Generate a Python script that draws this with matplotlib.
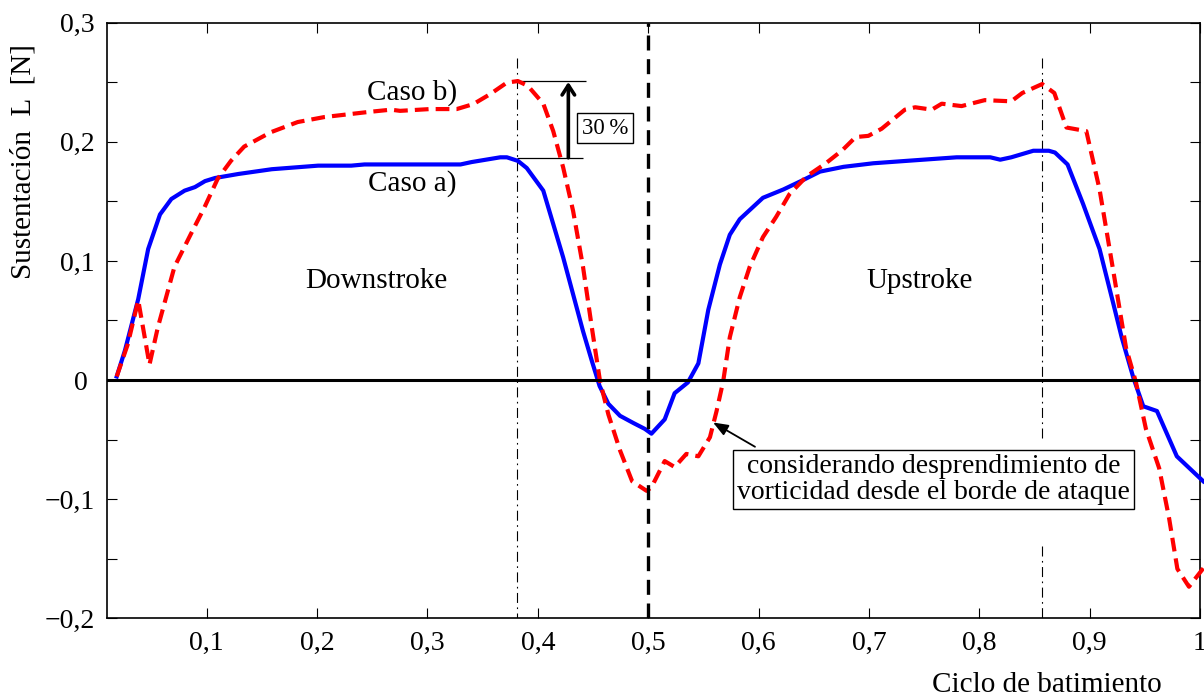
import numpy as np
import matplotlib
matplotlib.use("Agg")
import matplotlib.pyplot as plt

plt.rcParams['font.family'] = ['Liberation Serif', 'DejaVu Serif']

# Caso a) - sin desprendimiento (azul)
t_a = [0.0185, 0.026, 0.038, 0.047, 0.0577, 0.068, 0.080, 0.0894, 0.0985, 0.1075,
       0.1287, 0.159, 0.201, 0.231, 0.243, 0.33, 0.34, 0.366, 0.372, 0.382,
       0.390, 0.405, 0.414, 0.423, 0.432, 0.441, 0.449, 0.456, 0.464, 0.4745,
       0.4865, 0.497, 0.503, 0.515, 0.524, 0.536, 0.5455, 0.5545, 0.565, 0.574,
       0.583, 0.604, 0.6225, 0.6406, 0.6557, 0.677, 0.704, 0.734, 0.7795, 0.81,
       0.819, 0.829, 0.849, 0.863, 0.8686, 0.880, 0.894, 0.909, 0.9215, 0.929,
       0.9396, 0.9486, 0.961, 0.979, 1.003]
L_a = [0.003, 0.025, 0.068, 0.110, 0.139, 0.152, 0.159, 0.162, 0.167, 0.1696,
       0.173, 0.177, 0.180, 0.180, 0.181, 0.181, 0.183, 0.187, 0.187, 0.184,
       0.178, 0.159, 0.131, 0.103, 0.072, 0.041, 0.016, -0.005, -0.020, -0.030,
       -0.036, -0.041, -0.045, -0.033, -0.011, -0.002, 0.014, 0.059, 0.097, 0.122,
       0.135, 0.153, 0.160, 0.168, 0.175, 0.179, 0.182, 0.184, 0.187, 0.187,
       0.185, 0.187, 0.1925, 0.1925, 0.191, 0.181, 0.148, 0.110, 0.064, 0.036,
       0.002, -0.022, -0.026, -0.064, -0.085]

# Caso b) - con desprendimiento de vorticidad (rojo)
t_b = [0.0185, 0.0285, 0.038, 0.0482, 0.0557, 0.0708, 0.0859, 0.098, 0.110, 0.122,
       0.134, 0.158, 0.1825, 0.2067, 0.246, 0.267, 0.2752, 0.3024, 0.3266, 0.3417,
       0.3568, 0.372, 0.382, 0.391, 0.405, 0.414, 0.423, 0.432, 0.441, 0.449,
       0.4564, 0.464, 0.4745, 0.4855, 0.4986, 0.503, 0.515, 0.524, 0.5346, 0.5455,
       0.556, 0.562, 0.568, 0.574, 0.583, 0.592, 0.604, 0.616, 0.628, 0.6436,
       0.661, 0.676, 0.688, 0.6995, 0.7116, 0.7326, 0.742, 0.757, 0.766, 0.784,
       0.805, 0.829, 0.839, 0.857, 0.868, 0.879, 0.897, 0.909, 0.921, 0.933,
       0.942, 0.951, 0.963, 0.972, 0.9795, 0.99, 1.003]
L_b = [0.003, 0.030, 0.067, 0.013, 0.044, 0.095, 0.123, 0.145, 0.169, 0.184,
       0.196, 0.208, 0.2166, 0.2208, 0.225, 0.227, 0.226, 0.2275, 0.2275, 0.2317,
       0.240, 0.2497, 0.251, 0.247, 0.232, 0.209, 0.1785, 0.142, 0.095, 0.044,
       -0.001, -0.029, -0.059, -0.085, -0.093, -0.090, -0.068, -0.073, -0.062, -0.064,
       -0.048, -0.026, -0.001, 0.036, 0.0695, 0.095, 0.120, 0.137, 0.156, 0.171,
       0.182, 0.193, 0.204, 0.205, 0.211, 0.227, 0.229, 0.227, 0.232, 0.230,
       0.235, 0.234, 0.241, 0.2485, 0.241, 0.212, 0.209, 0.16, 0.094, 0.027,
       -0.002, -0.041, -0.074, -0.116, -0.1585, -0.1735, -0.158]

x_ticks = [0.1, 0.2, 0.3, 0.4, 0.5, 0.6, 0.7, 0.8, 0.9, 1.0]
x_labels = ['0,1', '0,2', '0,3', '0,4', '0,5', '0,6', '0,7', '0,8', '0,9', '1']
y_ticks = [-0.2, -0.15, -0.1, -0.05, 0.0, 0.05, 0.1, 0.15, 0.2, 0.25, 0.3]
y_labels = ['\u22120,2', '', '\u22120,1', '', '0 ', '', '0,1', '', '0,2', '', '0,3']

# posiciones de referencia
t_peak1 = 0.381
t_peak2 = 0.8566
peak_b = 0.2513
peak_a = 0.1866

fig = plt.figure(figsize=(12.04, 6.96), dpi=100)
ax = fig.add_axes([107/1204, 1 - 618.3/696, (1200 - 107)/1204, (618.3 - 22.7)/696])

ax.plot(t_a, L_a, '-', color='#0000ff', lw=3.0, clip_on=False, zorder=3)
ax.plot(t_b, L_b, color='#ff0000', lw=3.0, linestyle=(0, (3.3, 1.7)),
        clip_on=False, zorder=4)

ax.axhline(0, color='k', lw=2.2, zorder=5)
ax.axvline(0.5, color='k', lw=2.4, linestyle=(0, (4.5, 2.6)), zorder=5)

dashdot = (0, (9, 4, 1.5, 4))
ax.plot([t_peak1, t_peak1], [0.27, -0.2], color='k', lw=0.8, linestyle=dashdot)
ax.plot([t_peak2, t_peak2], [0.27, -0.051], color='k', lw=0.8, linestyle=dashdot)
ax.plot([t_peak2, t_peak2], [-0.139, -0.2], color='k', lw=0.8, linestyle=dashdot)

# 30 % marker
ax.hlines(peak_b, t_peak1, 0.444, color='k', lw=0.9)
ax.hlines(peak_a, t_peak1, 0.441, color='k', lw=0.9)
ax.annotate('', xy=(0.4277, peak_b - 0.001), xytext=(0.4277, peak_a),
            arrowprops=dict(arrowstyle='->,head_length=0.7,head_width=0.45',
                            color='k', lw=2.6, shrinkA=0, shrinkB=0))
ax.text(0.4608, 0.2114, '30\u2009%', fontsize=16.5, ha='center', va='center',
        bbox=dict(boxstyle='square,pad=0.2', fc='white', ec='k', lw=1.0))

ax.text(0.3268, 0.2353, 'Caso b)', fontsize=21, ha='right', va='baseline')
ax.text(0.3268, 0.159, 'Caso a)', fontsize=21, ha='right', va='baseline')
ax.text(0.2535, 0.0775, 'Downstroke', fontsize=21, ha='center', va='baseline')
ax.text(0.7463, 0.0775, 'Upstroke', fontsize=21, ha='center', va='baseline')

ax.annotate('', xy=(0.5588, -0.0356), xytext=(0.5968, -0.056),
            arrowprops=dict(arrowstyle='-|>,head_length=0.9,head_width=0.35',
                            color='k', lw=1.3, shrinkA=0, shrinkB=0), zorder=6)
ax.text(0.7586, -0.0833,
        'considerando desprendimiento de\nvorticidad desde el borde de ataque',
        fontsize=20, ha='center', va='center', linespacing=1.05, zorder=6,
        bbox=dict(boxstyle='square,pad=0.15', fc='white', ec='k', lw=1.0))

ax.set_xlim(0.0097, 1.0)
ax.set_ylim(-0.2, 0.3)
ax.set_xticks(x_ticks)
ax.set_xticklabels(x_labels)
ax.set_yticks(y_ticks)
ax.set_yticklabels(y_labels)
ax.tick_params(direction='in', top=True, right=True, length=7, width=0.8,
               labelsize=20)
ax.tick_params(axis='x', pad=9)
ax.tick_params(axis='y', pad=9)
for s in ax.spines.values():
    s.set_linewidth(1.2)

fig.text(24/1204, 1 - 161.5/696, 'Sustentación  L  [N]', rotation=90,
         fontsize=21, ha='center', va='center')
fig.text(1046.5/1204, 1 - 692/696, 'Ciclo de batimiento', fontsize=21,
         ha='center', va='baseline')

fig.savefig('out.png', dpi=100)
